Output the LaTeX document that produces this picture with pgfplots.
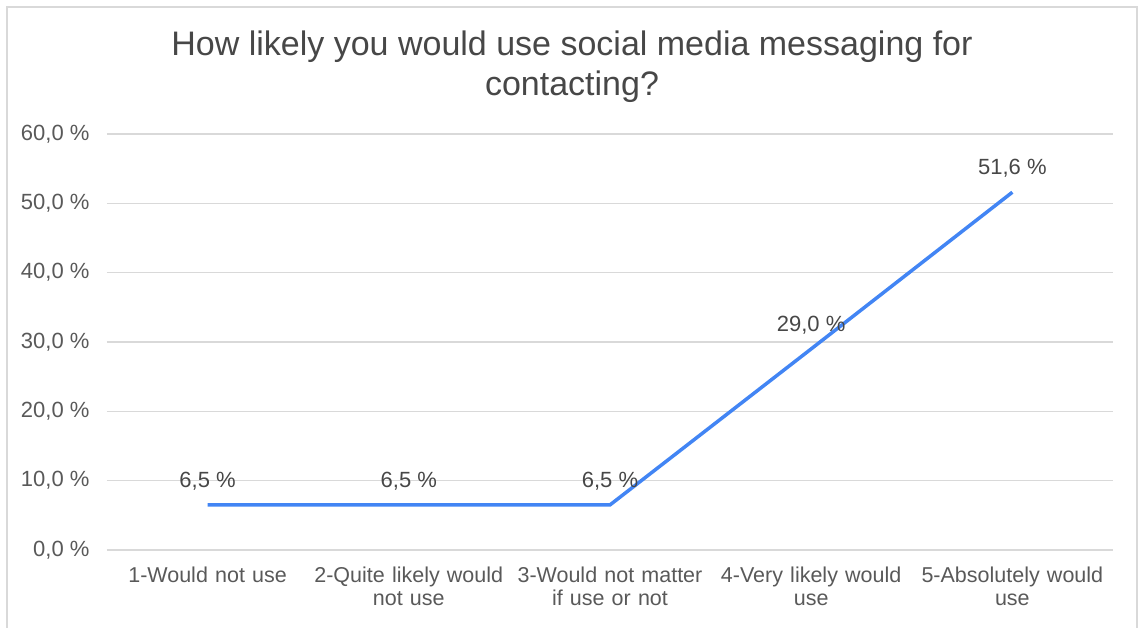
\documentclass[border=0pt]{standalone}
\usepackage{pgfplots}
\pgfplotsset{compat=1.18}
\usepackage{fontspec}
\setmainfont{Liberation Sans}
\definecolor{linec}{HTML}{4285F4}
\definecolor{gridc}{HTML}{D9D9D9}
\definecolor{txt}{HTML}{595959}
\definecolor{ttl}{HTML}{474747}
\begin{document}
\begin{tikzpicture}[x=1pt,y=1pt]
\useasboundingbox (0,0) rectangle (1138,628);
\draw[gridc, line width=1.5pt] (7,-10) -- (7,621) -- (1137,621) -- (1137,-10);
\node[align=center, text=ttl, font=\fontsize{34}{40}\selectfont] at (572,561) {How likely you would use social media messaging for\\contacting?};
\begin{axis}[
  at={(107pt,78pt)}, anchor=south west,
  scale only axis, width=1006pt, height=416pt,
  xmin=-0.5, xmax=4.5, ymin=0, ymax=60,
  xtick={0,1,2,3,4},
  xticklabels={{1-Would not use},{2-Quite likely would\\not use},{3-Would not matter\\if use or not},{4-Very likely would\\use},{5-Absolutely would\\use}},
  xticklabel style={align=center, text width=201pt, font=\fontsize{21.5}{23}\selectfont, text=txt, yshift=-13pt},
  ytick={0,10,20,30,40,50,60},
  yticklabel={\pgfmathprintnumber[fixed,fixed zerofill,precision=1,use comma,assume math mode=true]{\tick}~\%},
  yticklabel style={font=\fontsize{22}{24}\selectfont, text=txt, xshift=-14pt},
  axis line style={draw=none},
  major tick length=0pt,
  ymajorgrids, grid style={gridc, line width=1.5pt},
  nodes near coords={\pgfmathprintnumber[fixed,fixed zerofill,precision=1,use comma,assume math mode=true]{\pgfplotspointmeta}~\%},
  nodes near coords style={font=\fontsize{22}{24}\selectfont, text=ttl, anchor=south, yshift=10pt},
  clip=false,
]
\addplot[linec, line width=3.5pt, mark=none] coordinates {(0,6.5) (1,6.5) (2,6.5) (3,29.0) (4,51.6)};
\end{axis}
\end{tikzpicture}
\end{document}
